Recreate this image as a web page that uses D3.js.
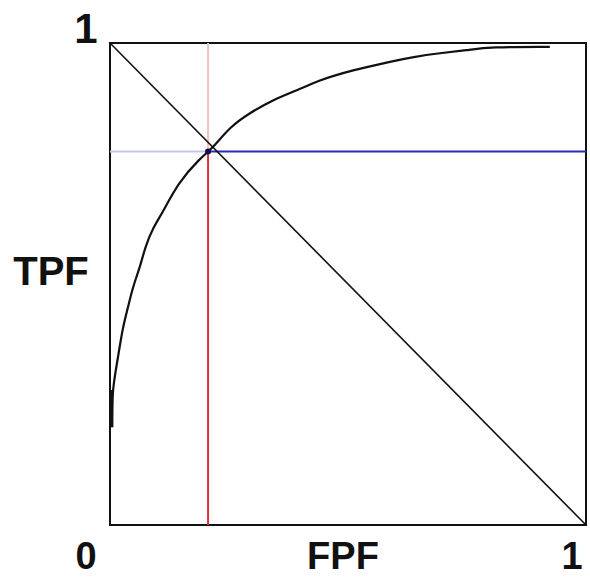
<!DOCTYPE html>
<html>
<head>
<meta charset="utf-8">
<script src="https://cdn.jsdelivr.net/npm/d3@7"></script>
<style>
  html, body { margin: 0; padding: 0; background: #fff; }
  svg { display: block; }
  text { font-family: "Liberation Sans", Arial, sans-serif; font-weight: bold; fill: #111; }
</style>
</head>
<body>
<svg id="chart" width="590" height="577"></svg>
<script>
// ROC curve points (FPF, TPF)
const fpf = [0.004, 0.004, 0.006, 0.011, 0.017, 0.027, 0.038, 0.048, 0.063, 0.074, 0.090, 0.111, 0.143, 0.189, 0.216, 0.252, 0.294, 0.342, 0.393, 0.441, 0.489, 0.540, 0.588, 0.637, 0.693, 0.750, 0.798, 0.924];
const tpf = [0.203, 0.240, 0.280, 0.315, 0.349, 0.411, 0.452, 0.494, 0.535, 0.577, 0.616, 0.649, 0.710, 0.761, 0.782, 0.826, 0.855, 0.882, 0.902, 0.923, 0.938, 0.950, 0.961, 0.971, 0.979, 0.985, 0.992, 0.992];
// Operating point (threshold)
const opFPF = 0.206;
const opTPF = 0.775;
// Chance diagonal
const diagFPF = [0, 1];
const diagTPF = [1, 0];
// Tick labels
const xTickLabels = [{v: 0, t: "0"}, {v: 1, t: "1"}];
const yTickLabels = [{v: 1, t: "1"}];
const xTitle = "FPF";
const yTitle = "TPF";

const svg = d3.select("#chart");
const x = d3.scaleLinear().domain([0, 1]).range([110, 586]);
const y = d3.scaleLinear().domain([0, 1]).range([525, 43]);

// Frame
svg.append("rect")
  .attr("x", x(0)).attr("y", y(1))
  .attr("width", x(1) - x(0)).attr("height", y(0) - y(1))
  .attr("fill", "none").attr("stroke", "#111").attr("stroke-width", 2);

// Light parts of operating lines
svg.append("line")
  .attr("x1", x(opFPF)).attr("x2", x(opFPF))
  .attr("y1", y(1)).attr("y2", y(opTPF))
  .attr("stroke", "#f4c0c0").attr("stroke-width", 2);
svg.append("line")
  .attr("x1", x(0)).attr("x2", x(opFPF))
  .attr("y1", y(opTPF)).attr("y2", y(opTPF))
  .attr("stroke", "#c4c4f2").attr("stroke-width", 2);

// Dark parts
svg.append("line")
  .attr("x1", x(opFPF)).attr("x2", x(opFPF))
  .attr("y1", y(opTPF)).attr("y2", y(0))
  .attr("stroke", "#e0303a").attr("stroke-width", 2);
svg.append("line")
  .attr("x1", x(opFPF)).attr("x2", x(1))
  .attr("y1", y(opTPF)).attr("y2", y(opTPF))
  .attr("stroke", "#2a2ab0").attr("stroke-width", 2);

// Diagonal
svg.append("line")
  .attr("x1", x(diagFPF[0])).attr("y1", y(diagTPF[0]))
  .attr("x2", x(diagFPF[1])).attr("y2", y(diagTPF[1]))
  .attr("stroke", "#111").attr("stroke-width", 1.6);

// ROC curve
const pts = fpf.map((f, i) => [f, tpf[i]]);
svg.append("path")
  .datum(pts)
  .attr("d", d3.line().x(d => x(d[0])).y(d => y(d[1])).curve(d3.curveBasis))
  .attr("fill", "none").attr("stroke", "#111").attr("stroke-width", 2.2);
// thick start segment
svg.append("line")
  .attr("x1", x(fpf[0])).attr("x2", x(fpf[0]))
  .attr("y1", y(tpf[0])).attr("y2", y(tpf[2]))
  .attr("stroke", "#111").attr("stroke-width", 3);

// Operating point
svg.append("circle")
  .attr("cx", x(opFPF)).attr("cy", y(opTPF)).attr("r", 3)
  .attr("fill", "#101050");

// Labels
svg.selectAll(".xt").data(xTickLabels).enter().append("text")
  .attr("x", d => x(d.v) + (d.v === 0 ? -24 : -14))
  .attr("y", 569)
  .attr("text-anchor", "middle")
  .attr("font-size", 38)
  .text(d => d.t);
svg.selectAll(".yt").data(yTickLabels).enter().append("text")
  .attr("x", 86)
  .attr("y", y(d3.min(yTickLabels, d => d.v)))
  .attr("text-anchor", "middle")
  .attr("font-size", 42)
  .text(d => d.t);
svg.append("text")
  .attr("x", 343).attr("y", 569)
  .attr("text-anchor", "middle").attr("font-size", 38)
  .text(xTitle);
svg.append("text")
  .attr("x", 51).attr("y", 285)
  .attr("text-anchor", "middle").attr("font-size", 40)
  .text(yTitle);
</script>
</body>
</html>
